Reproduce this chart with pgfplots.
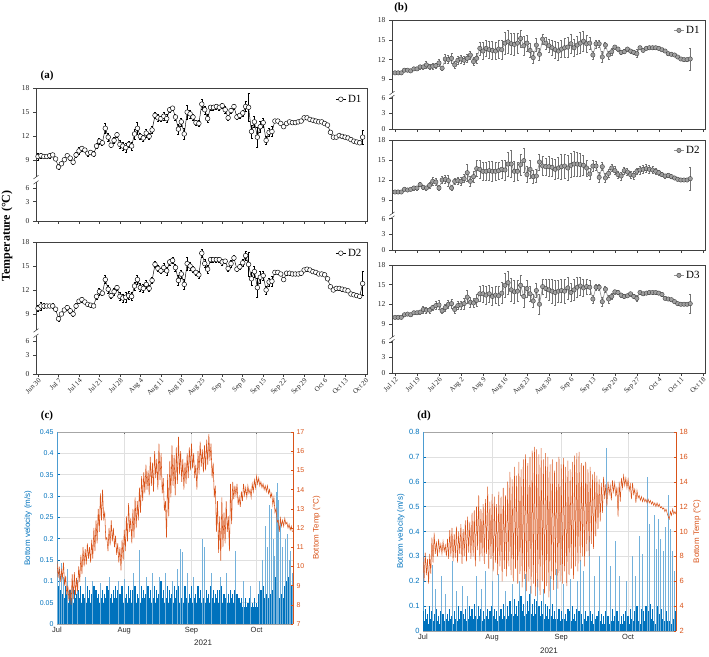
\documentclass[border=0pt]{standalone}
\usepackage{fontspec}
\setmainfont{Liberation Serif}
\newfontfamily\sansfont{Liberation Sans}
\usepackage{pgfplots}
\usepackage{pgfplotstable}
\pgfplotsset{compat=1.18}

\definecolor{mblue}{RGB}{0,114,189}
\definecolor{morange}{RGB}{217,83,25}
\definecolor{mgray}{RGB}{38,38,38}

% ---------- daily temperature, site 1 (day 0 = Jun 30) ----------
\pgfplotstableread{
d t e
0 9.5 .4
1 9.6 .3
2 9.5 .2
3 9.5 .2
4 9.6 .3
5 9.7 .2
6 9.2 .2
7 8.2 .3
8 8.6 .2
9 9.1 .2
10 9.6 .2
11 9.3 .2
12 8.8 .3
13 9.7 .3
14 10.2 .4
15 10.5 .3
16 10.3 .2
17 9.9 .3
18 10.0 .2
19 9.8 .3
20 10.8 .3
21 11.4 .4
22 11.2 .3
23 13.0 .6
24 11.9 .5
25 10.9 .3
26 11.5 .4
27 12.2 .3
28 11.0 .5
29 10.8 .5
30 10.6 .6
31 11.0 .4
32 10.8 .5
33 12.3 .6
34 13.0 .7
35 12.0 .4
36 11.8 .4
37 12.4 .5
38 12.0 .4
39 12.8 .4
40 14.6 .4
41 14.3 .4
42 14.2 .3
43 14.5 .5
44 14.2 .5
45 15.3 .3
46 15.5 .3
47 14.4 .4
48 12.9 .6
49 13.8 .5
50 12.3 .7
51 15.0 .9
52 14.8 .5
53 14.4 .4
54 13.7 .3
55 13.6 .4
56 16.0 .6
57 15.3 .5
58 14.2 .5
59 15.6 .3
60 15.6 .3
61 15.7 .3
62 15.6 .3
63 15.8 .3
64 15.3 .4
65 14.3 .3
66 15.2 .3
67 15.7 .3
68 14.4 .3
69 14.6 .3
70 14.9 .4
71 15.7 .6
72 15.6 1.7
73 12.6 .8
74 13.8 .7
75 11.9 1.2
76 13.2 .7
77 13.7 .6
78 11.5 .5
79 12.5 .5
80 12.6 .6
81 13.9 .15
82 13.9 .15
83 13.6 .15
84 13.2 .15
85 13.6 .15
86 13.8 .15
87 13.7 .15
88 13.7 .15
89 13.8 .15
90 13.9 .15
91 14.3 .15
92 14.3 .15
93 14.1 .15
94 14.0 .15
95 13.9 .15
96 13.8 .15
97 13.8 .15
98 13.6 .15
99 13.4 .15
100 12.5 .15
101 11.9 .15
102 11.9 .15
103 12.1 .15
104 12.0 .15
105 11.9 .15
106 11.8 .15
107 11.6 .15
108 11.4 .15
109 11.3 .15
110 11.2 .15
111 11.9 .9
}\aDone

% ---------- daily temperature, site 2 (day 0 = Jun 30) ----------
\pgfplotstableread{
d t e
0 9.7 .4
1 10.0 .5
2 10.0 .3
3 10.0 .2
4 10.0 .2
5 10.0 .3
6 9.6 .3
7 8.4 .3
8 9.0 .2
9 9.5 .2
10 9.8 .3
11 9.4 .3
12 9.0 .3
13 10.0 .3
14 10.6 .3
15 10.8 .3
16 10.5 .2
17 10.2 .2
18 10.1 .2
19 10.0 .2
20 11.2 .3
21 11.8 .4
22 11.6 .3
23 13.3 .5
24 12.1 .5
25 11.3 .3
26 11.8 .4
27 12.3 .3
28 11.2 .5
29 11.0 .5
30 11.1 .6
31 11.3 .5
32 11.2 .5
33 12.5 .5
34 13.3 .6
35 12.3 .5
36 12.2 .5
37 12.7 .5
38 12.2 .4
39 13.2 .4
40 15.2 .4
41 14.7 .4
42 14.4 .3
43 14.8 .5
44 14.4 .5
45 15.5 .4
46 15.7 .4
47 14.8 .4
48 13.2 .6
49 14.0 .5
50 12.7 .6
51 15.3 .8
52 15.0 .5
53 14.6 .4
54 14.2 .3
55 13.9 .4
56 16.6 .5
57 15.3 .5
58 14.6 .5
59 15.8 .3
60 15.8 .3
61 15.8 .3
62 15.8 .3
63 15.5 .4
64 15.6 .3
65 14.7 .3
66 15.3 .4
67 16.0 .3
68 14.6 .3
69 14.9 .3
70 15.4 .4
71 16.3 .6
72 15.2 1.5
73 13.4 .8
74 14.3 .7
75 12.3 1.2
76 13.6 .7
77 13.8 .6
78 12.0 .5
79 13.0 .5
80 13.1 .6
81 14.2 .2
82 14.2 .2
83 14.0 .2
84 13.3 .2
85 14.1 .2
86 14.1 .2
87 14.0 .2
88 14.0 .2
89 14.0 .2
90 14.1 .2
91 14.5 .2
92 14.6 .2
93 14.5 .2
94 14.3 .2
95 14.2 .2
96 14.0 .2
97 14.0 .2
98 13.9 .2
99 13.4 .2
100 12.4 .2
101 12.0 .2
102 12.2 .2
103 12.2 .2
104 12.1 .2
105 12.0 .2
106 11.9 .2
107 11.5 .2
108 11.4 .2
109 11.3 .2
110 11.2 .2
111 12.8 1.5
}\aDtwo

% ---------- second deployment (day 0 = Jul 12) ----------
\pgfplotstableread{
d t e
0 10.0 .1
1 10.0 .1
2 10.0 .1
3 10.4 .1
4 10.4 .1
5 10.3 .1
6 10.6 .2
7 10.6 .2
8 10.9 .3
9 10.9 .3
10 11.2 .5
11 10.9 .4
12 11.0 .4
13 11.1 .4
14 11.5 .5
15 10.7 .3
16 12.1 .7
17 12.0 .6
18 12.2 .8
19 11.2 .5
20 11.9 .6
21 12.1 .6
22 11.9 .6
23 12.2 .6
24 12.7 .6
25 11.7 .6
26 12.2 .7
27 13.7 1.0
28 13.3 1.3
29 13.7 1.2
30 13.5 1.3
31 13.4 1.4
32 13.3 1.3
33 13.6 1.4
34 13.5 1.5
35 14.5 1.7
36 14.7 1.8
37 14.4 1.6
38 14.3 1.7
39 14.5 1.5
40 15.2 1.3
41 14.1 1.4
42 14.5 1.2
43 13.4 1.1
44 12.3 .9
45 14.2 1.0
46 12.8 .9
47 15.1 .8
48 14.5 .9
49 14.1 1.0
50 13.8 1.2
51 13.5 1.3
52 13.3 1.4
53 13.6 1.3
54 13.8 1.4
55 13.9 1.5
56 14.4 1.5
57 13.8 1.3
58 14.2 1.4
59 14.5 1.6
60 14.8 1.5
61 14.4 1.3
62 14.5 .9
63 12.7 .6
64 14.4 .6
65 14.4 .5
66 12.4 .8
67 14.2 .5
68 12.7 .6
69 13.2 .5
70 13.9 .3
71 13.6 .3
72 13.1 .3
73 13.2 .3
74 13.6 .3
75 13.3 .3
76 13.1 .3
77 12.9 .6
78 13.8 .2
79 13.4 .2
80 13.7 .2
81 13.8 .2
82 13.8 .2
83 13.8 .2
84 13.7 .2
85 13.5 .2
86 13.3 .2
87 12.9 .2
88 12.8 .2
89 12.7 .2
90 12.4 .2
91 12.1 .2
92 12.0 .2
93 12.0 .2
94 12.1 1.7
}\bDone

\pgfplotstableread{
d t e
0 10.2 .2
1 10.2 .2
2 10.2 .2
3 10.6 .2
4 10.5 .2
5 10.6 .2
6 10.8 .3
7 10.8 .3
8 11.3 .3
9 10.9 .3
10 10.8 .3
11 11.2 .4
12 11.8 .6
13 11.7 .5
14 10.8 .4
15 12.0 .5
16 12.1 .6
17 11.9 .8
18 10.8 .4
19 11.8 .5
20 11.9 .5
21 11.8 .6
22 12.2 .6
23 13.1 1.3
24 11.8 .7
25 12.5 .8
26 13.7 1.2
27 13.6 1.3
28 13.3 1.4
29 13.3 1.3
30 13.4 1.4
31 13.3 1.5
32 13.3 1.4
33 13.4 1.3
34 13.6 1.4
35 13.5 1.5
36 14.4 1.8
37 14.4 2.0
38 13.3 1.5
39 13.3 1.4
40 14.3 1.6
41 14.9 1.8
42 12.8 1.2
43 13.6 1.3
44 12.5 1.0
45 12.6 1.0
46 14.7 1.2
47 14.1 1.4
48 14.0 1.3
49 14.0 1.5
50 13.9 1.4
51 13.6 1.5
52 13.8 1.6
53 14.0 1.9
54 14.1 1.8
55 13.8 1.9
56 14.2 1.8
57 14.4 1.9
58 14.4 1.8
59 14.3 1.7
60 14.2 1.5
61 13.8 1.2
62 12.9 .8
63 14.1 .8
64 14.1 .7
65 12.4 .8
66 14.0 .6
67 12.3 .7
68 13.0 .6
69 13.8 .5
70 13.4 .6
71 12.8 .5
72 12.6 .6
73 13.4 .5
74 13.2 .5
75 12.8 .5
76 12.7 .6
77 13.3 .5
78 13.5 .6
79 13.6 .6
80 13.7 .6
81 13.6 .6
82 13.5 .5
83 13.3 .4
84 13.1 .4
85 12.8 .3
86 12.6 .3
87 12.7 .3
88 12.5 .3
89 12.3 .2
90 12.1 .2
91 12.0 .2
92 12.0 .2
93 12.0 .2
94 12.2 1.7
}\bDtwo

\pgfplotstableread{
d t e
0 10.0 .1
1 10.0 .1
2 10.0 .1
3 10.4 .2
4 10.5 .2
5 10.4 .2
6 10.7 .2
7 10.7 .2
8 10.8 .3
9 11.2 .5
10 11.1 .4
11 11.1 .4
12 11.5 .4
13 11.8 .6
14 11.9 .7
15 11.0 .4
16 11.5 .5
17 12.0 .6
18 12.1 .7
19 11.2 .5
20 11.8 .6
21 11.9 .6
22 12.1 .8
23 13.1 1.0
24 12.3 .8
25 12.2 .7
26 12.6 .9
27 13.6 1.1
28 13.6 1.3
29 13.4 1.4
30 13.6 1.3
31 13.2 1.4
32 13.4 1.3
33 13.3 1.5
34 13.7 1.6
35 14.9 1.9
36 15.3 1.7
37 14.2 1.8
38 13.9 1.7
39 14.0 1.6
40 14.9 1.5
41 13.2 1.6
42 14.4 1.3
43 13.6 1.2
44 12.5 1.0
45 14.1 1.1
46 12.0 1.5
47 14.7 1.2
48 14.4 1.4
49 14.2 1.6
50 14.0 1.8
51 13.8 1.9
52 14.0 1.7
53 14.1 1.8
54 14.0 1.9
55 14.5 1.7
56 13.8 1.4
57 14.2 1.6
58 14.6 1.5
59 14.8 1.4
60 14.5 1.3
61 14.7 1.2
62 14.6 1.0
63 12.8 .6
64 14.6 .5
65 14.6 .4
66 12.4 .7
67 14.3 .5
68 12.8 .6
69 13.2 .5
70 13.9 .3
71 13.8 .3
72 13.4 .3
73 13.2 .3
74 13.3 .3
75 13.6 .3
76 13.2 .3
77 12.9 .5
78 13.8 .2
79 13.6 .2
80 13.7 .2
81 13.8 .2
82 13.8 .2
83 13.8 .2
84 13.7 .2
85 13.5 .2
86 12.9 .2
87 12.8 .2
88 12.7 .2
89 12.4 .2
90 12.1 .2
91 12.0 .2
92 12.0 .2
93 12.0 .2
94 12.1 1.5
}\bDthree

\pgfplotsset{
  tbase/.style={
    scale only axis, clip=false,
    axis line style={black!75, line width=0.6pt},
    tick align=outside, xtick pos=left, ytick pos=left,
    major tick length=3pt,
    every tick/.style={black!75, line width=0.5pt},
    ymin=0, ymax=16.5,
    yticklabels={0,3,6,9,12,15,18},
    y tick label style={font=\fontsize{7.5}{8.5}\selectfont, text=black!85},
    x tick label style={font=\fontsize{7}{8}\selectfont, text=black!85,
      rotate=45, anchor=north east, inner sep=0.5pt},
    legend style={draw=none, fill=none, at={(0.99,0.965)}, anchor=north east,
      font=\fontsize{11}{12}\selectfont, inner sep=0pt},
    legend image code/.code={\draw[mark repeat=2, mark phase=2]
      plot coordinates {(0pt,0pt) (5pt,0pt) (10pt,0pt)};},
  },
  ta/.style={tbase, xmin=-0.7, xmax=112.5, xtick={0,7,...,112},
    ytick={0,2.4,4.1,7.5,10.5,13.5,16.5}},
  tb/.style={tbase, xmin=-0.96, xmax=98.7, xtick={0,7,...,98},
    ytick={0,2.4,4.7,7.5,10.5,13.5,16.5}},
  openser/.style={black, line width=0.45pt, mark=*, mark size=2.35pt,
    mark options={fill=white, draw=black, line width=0.45pt},
    error bars/.cd, y dir=both, y explicit,
    error bar style={line width=0.4pt, black},
    error mark options={rotate=90, mark size=1pt, line width=0.4pt, black}},
  grayser/.style={color=gray!85, line width=0.6pt, mark=*, mark size=2.2pt,
    mark options={fill=gray!75, draw=gray!50!black, line width=0.4pt},
    error bars/.cd, y dir=both, y explicit,
    error bar style={line width=0.45pt, gray!90!black},
    error mark options={rotate=90, mark size=1pt, line width=0.45pt, gray!90!black}},
  mleft/.style={
    scale only axis, separate axis lines,
    x axis line style={black!35, line width=0.5pt},
    y axis line style={mblue!70, line width=0.5pt},
    tick align=inside, major tick length=2.5pt,
    xtick style={black!60, line width=0.4pt},
    ytick style={mblue, line width=0.4pt},
    ytick pos=left,
    grid=major, grid style={black!12, line width=0.4pt},
    xmin=0, ymin=0,
    xtick={0,31,62,92}, xticklabels={Jul,Aug,Sep,Oct},
    x tick label style={font=\sansfont\fontsize{7.5}{8}\selectfont, text=mgray},
    y tick label style={font=\sansfont\fontsize{7}{8}\selectfont, text=mblue},
  },
  mright/.style={
    scale only axis, axis x line=none, axis y line*=right,
    y axis line style={-, morange, line width=0.5pt},
    tick align=inside, major tick length=2.5pt,
    ytick style={morange, line width=0.4pt},
    y tick label style={font=\sansfont\fontsize{7}{8}\selectfont, text=morange},
    xmin=0,
  },
}

% broken-axis marker on the left spine
\newcommand{\ybreak}[2]{%
  \fill[white] ([xshift=-2.5pt]rel axis cs:0,#1) rectangle ([xshift=2.5pt]rel axis cs:0,#2);
  \draw[black!75, line width=0.5pt] ([xshift=-2.5pt,yshift=-1.8pt]rel axis cs:0,#1) -- ([xshift=2.5pt,yshift=1.8pt]rel axis cs:0,#1);
  \draw[black!75, line width=0.5pt] ([xshift=-2.5pt,yshift=-1.8pt]rel axis cs:0,#2) -- ([xshift=2.5pt,yshift=1.8pt]rel axis cs:0,#2);
}

\begin{document}
\begin{tikzpicture}
\useasboundingbox (0,0) rectangle (709pt,656pt);

% ================= (a) =================
\begin{axis}[ta, at={(36pt,435pt)}, anchor=south west, width=331pt, height=133pt,
  xticklabels={}]
\addplot[openser] table[x=d, y expr=\thisrow{t}-1.5, y error=e] {\aDone};
\legend{D1}
\ybreak{0.29}{0.33}
\end{axis}

\begin{axis}[ta, at={(36pt,282pt)}, anchor=south west, width=331pt, height=132pt,
  xticklabels={Jun 30,Jul 7,Jul 14,Jul 21,Jul 28,Aug 4,Aug 11,Aug 18,Aug 25,Sep 1,Sep 8,Sep 15,Sep 22,Sep 29,Oct 6,Oct 13,Oct 20}]
\addplot[openser] table[x=d, y expr=\thisrow{t}-1.5, y error=e] {\aDtwo};
\legend{D2}
\ybreak{0.29}{0.33}
\end{axis}

\node[font=\bfseries\fontsize{11}{12}\selectfont] at (47pt,580pt) {(a)};
\node[font=\bfseries\fontsize{12}{13}\selectfont, rotate=90] at (7pt,420pt) {Temperature (°C)};

% ================= (b) =================
\begin{axis}[tb, at={(392pt,527pt)}, anchor=south west, width=313pt, height=109pt,
  xticklabels={}]
\addplot[grayser] table[x=d, y expr=\thisrow{t}-1.5, y error=e] {\bDone};
\legend{D1}
\ybreak{0.295}{0.33}
\end{axis}

\begin{axis}[tb, at={(392pt,406pt)}, anchor=south west, width=313pt, height=110pt,
  xticklabels={}]
\addplot[grayser] table[x=d, y expr=\thisrow{t}-1.5, y error=e] {\bDtwo};
\legend{D2}
\ybreak{0.295}{0.33}
\end{axis}

\begin{axis}[tb, at={(392pt,283pt)}, anchor=south west, width=313pt, height=108pt,
  xticklabels={Jul 12,Jul 19,Jul 26,Aug 2,Aug 9,Aug 16,Aug 23,Aug 30,Sep 6,Sep 13,Sep 20,Sep 27,Oct 4,Oct 11,Oct 18}]
\addplot[grayser] table[x=d, y expr=\thisrow{t}-1.5, y error=e] {\bDthree};
\legend{D3}
\ybreak{0.295}{0.33}
\end{axis}

\node[font=\bfseries\fontsize{11}{12}\selectfont] at (401pt,648pt) {(b)};

% ================= (c) =================
\begin{axis}[mleft, at={(57pt,32pt)}, anchor=south west, width=236pt, height=192pt,
  xmax=108.8, ymax=0.45,
  ytick={0,0.05,0.1,0.15,0.2,0.25,0.3,0.35,0.4,0.45},
  yticklabels={0,0.05,0.1,0.15,0.2,0.25,0.3,0.35,0.4,0.45},
  ylabel={Bottom velocity (m/s)}, xlabel={2021},
  every axis y label/.style={at={(axis description cs:-0.123,0.5)}, rotate=90, anchor=center,
    font=\sansfont\fontsize{8}{9}\selectfont, text=mblue},
  every axis x label/.style={at={(axis description cs:0.619,-0.099)}, anchor=center,
    font=\sansfont\fontsize{8}{9}\selectfont, text=mgray}]
% half-daily velocity envelope
\addplot[ycomb, mblue, line width=1.25pt, no marks] table[row sep=\\, header=false, x expr=\coordindex/2, y index=0] {
.12\\.09\\.13\\.08\\.11\\.07\\.10\\.06\\.09\\.07\\
.07\\.05\\.08\\.06\\.09\\.05\\.08\\.06\\.07\\.05\\.08\\.06\\.09\\.05\\.07\\.06\\.08\\.05\\.09\\.06\\
.08\\.05\\.07\\.06\\.09\\.05\\.08\\.06\\.07\\.05\\.09\\.06\\.08\\.05\\.07\\.06\\.09\\.05\\.08\\.06\\
.07\\.05\\.08\\.06\\.09\\.06\\.08\\.05\\.07\\.06\\.09\\.05\\.08\\.06\\.07\\.05\\.09\\.06\\.08\\.05\\
.08\\.06\\.09\\.05\\.07\\.06\\.08\\.05\\.09\\.06\\.08\\.06\\.07\\.05\\.09\\.06\\.08\\.05\\.07\\.06\\
.09\\.05\\.08\\.06\\.07\\.05\\.10\\.06\\.08\\.05\\.07\\.06\\.09\\.05\\.08\\.06\\.07\\.05\\.09\\.06\\
.08\\.06\\.09\\.05\\.07\\.06\\.08\\.05\\.09\\.06\\.08\\.05\\.07\\.06\\.09\\.05\\.08\\.06\\.07\\.05\\
.09\\.06\\.08\\.05\\.07\\.06\\.09\\.05\\.08\\.06\\.07\\.05\\.09\\.06\\.08\\.05\\.07\\.06\\.08\\.05\\
.08\\.06\\.09\\.05\\.07\\.06\\.08\\.05\\.07\\.05\\.08\\.06\\.07\\.05\\.08\\.05\\.07\\.06\\.06\\.05\\
.06\\.04\\.05\\.04\\.06\\.04\\.05\\.03\\.06\\.04\\.05\\.04\\.06\\.04\\.05\\.04\\.07\\.05\\.08\\.05\\
.09\\.06\\.10\\.07\\.11\\.06\\.09\\.07\\.12\\.08\\.10\\.06\\.11\\.07\\.09\\.06\\.10\\.07\\.11\\.06\\
.09\\.07\\.10\\.06\\.11\\.07\\.09\\.06\\
};
% individual velocity bursts
\addplot[ycomb, mblue!55, line width=0.35pt, no marks] coordinates {
(0.3,0.14) (1.2,0.12) (2,0.143) (3,0.11) (4.5,0.13) (7,0.10) (9.5,0.103) (13,0.11)
(16,0.10) (20,0.095) (24,0.11) (28,0.10) (31,0.105) (35,0.12) (38,0.173) (41,0.11)
(44,0.12) (47,0.11) (50,0.12) (53,0.10) (55.5,0.13) (57,0.175) (57.8,0.168) (60,0.12)
(63,0.11) (67,0.20) (68,0.18) (71,0.12) (75,0.11) (78,0.12) (82,0.17) (86,0.10)
(89,0.09) (93,0.10) (94.5,0.15) (96,0.23) (97,0.18) (97.8,0.28) (98.7,0.27) (99.5,0.20)
(100.2,0.16) (101,0.31) (101.5,0.33) (102,0.29) (103,0.24) (104,0.18) (105,0.20) (106,0.21)
(107,0.15) (107.5,0.17) (108.3,0.12)};
\end{axis}

\begin{axis}[mright, at={(57pt,32pt)}, anchor=south west, width=236pt, height=192pt,
  xmax=108.8, ymin=7, ymax=17,
  ytick={7,8,9,10,11,12,13,14,15,16,17},
  yticklabels={7,8,9,10,11,12,13,14,15,16,17},
  ylabel={Bottom Temp (°C)},
  every axis y label/.style={at={(axis description cs:1.10,0.5)}, rotate=90, anchor=center,
    font=\sansfont\fontsize{8}{9}\selectfont, text=morange}]
% half-daily bottom temperature (high / low)
\addplot[morange, line width=0.55pt, no marks] table[row sep=\\, header=false, x expr=\coordindex/2, y index=0] {
10.3\\9.4\\10.0\\9.2\\9.8\\9.4\\10.2\\9.0\\9.5\\8.5\\9.0\\8.2\\8.8\\8.0\\9.6\\8.3\\9.7\\8.5\\9.4\\8.7\\
10.0\\9.2\\10.6\\9.6\\11.0\\10.0\\10.9\\10.1\\11.2\\10.4\\11.0\\10.2\\11.4\\10.4\\12.0\\10.8\\12.4\\11.2\\13.0\\11.8\\
13.8\\12.4\\14.0\\12.5\\12.8\\11.4\\11.5\\10.8\\12.0\\11.1\\12.4\\11.3\\12.0\\11.0\\11.6\\10.6\\11.2\\10.2\\11.0\\9.8\\
11.4\\10.3\\11.9\\10.8\\12.6\\11.3\\13.3\\11.8\\12.5\\11.2\\13.0\\11.5\\13.6\\12.0\\13.4\\12.4\\14.1\\12.8\\14.7\\13.4\\
14.9\\13.8\\15.3\\14.0\\15.0\\13.7\\15.7\\14.2\\15.4\\13.9\\16.0\\14.6\\15.6\\14.0\\16.4\\14.5\\15.9\\13.8\\14.6\\12.9\\
13.4\\11.5\\14.8\\12.6\\15.5\\13.6\\16.3\\14.2\\15.8\\13.7\\16.2\\14.3\\16.75\\14.8\\16.0\\14.4\\15.6\\14.0\\15.4\\14.3\\
15.9\\14.6\\16.2\\15.0\\16.4\\15.1\\15.9\\14.6\\15.3\\14.0\\16.0\\14.8\\16.5\\15.2\\16.1\\14.9\\16.3\\15.0\\16.6\\15.3\\
16.9\\15.5\\16.4\\14.6\\15.4\\13.6\\14.2\\11.8\\13.4\\10.7\\12.6\\10.3\\13.6\\11.0\\12.8\\11.2\\13.4\\11.8\\12.6\\10.8\\
14.3\\12.2\\14.4\\13.5\\14.2\\13.7\\14.3\\13.2\\13.6\\13.1\\13.9\\13.4\\14.3\\13.7\\14.1\\13.6\\14.2\\13.8\\14.0\\13.6\\
14.3\\13.9\\14.5\\14.1\\14.7\\14.3\\14.6\\14.2\\14.4\\14.1\\14.3\\14.0\\14.2\\13.9\\14.2\\13.8\\14.0\\13.6\\13.8\\13.2\\
13.6\\12.8\\13.0\\12.3\\12.4\\11.8\\12.5\\12.1\\12.4\\12.1\\12.5\\12.2\\12.3\\12.0\\12.2\\11.9\\12.1\\11.8\\
};
\end{axis}

\node[font=\bfseries\fontsize{11}{12}\selectfont] at (47pt,240pt) {(c)};

% ================= (d) =================
\begin{axis}[mleft, at={(423pt,25pt)}, anchor=south west, width=253pt, height=199pt,
  xmax=113.5, ymax=0.8,
  ytick={0,0.1,0.2,0.3,0.4,0.5,0.6,0.7,0.8},
  yticklabels={0,0.1,0.2,0.3,0.4,0.5,0.6,0.7,0.8},
  y tick label style={font=\sansfont\fontsize{7.5}{8}\selectfont, text=mblue},
  ylabel={Bottom velocity (m/s)}, xlabel={2021},
  every axis y label/.style={at={(axis description cs:-0.088,0.5)}, rotate=90, anchor=center,
    font=\sansfont\fontsize{8}{9}\selectfont, text=mblue},
  every axis x label/.style={at={(axis description cs:0.498,-0.10)}, anchor=center,
    font=\sansfont\fontsize{8}{9}\selectfont, text=mgray}]
\addplot[ycomb, mblue, line width=1.25pt, no marks] table[row sep=\\, header=false, x expr=\coordindex/2, y index=0] {
.08\\.04\\.09\\.05\\.07\\.03\\.10\\.05\\.08\\.04\\.07\\.05\\.09\\.04\\.06\\.03\\.08\\.05\\.07\\.04\\
.08\\.05\\.07\\.04\\.09\\.05\\.06\\.03\\.08\\.05\\.07\\.04\\.10\\.05\\.08\\.04\\.07\\.05\\.09\\.04\\
.08\\.05\\.10\\.06\\.09\\.05\\.11\\.06\\.08\\.05\\.10\\.06\\.09\\.04\\.08\\.05\\.11\\.06\\.09\\.05\\
.08\\.05\\.10\\.06\\.09\\.05\\.08\\.04\\.10\\.06\\.09\\.05\\.11\\.06\\.08\\.05\\.10\\.06\\.12\\.07\\
.11\\.06\\.13\\.07\\.10\\.06\\.12\\.07\\.14\\.08\\.11\\.06\\.13\\.07\\.12\\.08\\.15\\.07\\.11\\.06\\
.13\\.07\\.12\\.06\\.10\\.06\\.12\\.07\\.09\\.05\\.11\\.06\\.10\\.05\\.09\\.06\\.11\\.05\\.08\\.05\\
.10\\.05\\.09\\.04\\.08\\.05\\.10\\.05\\.07\\.04\\.09\\.05\\.08\\.04\\.10\\.05\\.07\\.04\\.09\\.05\\
.08\\.04\\.07\\.03\\.09\\.05\\.08\\.04\\.06\\.03\\.08\\.04\\.07\\.03\\.09\\.05\\.06\\.03\\.08\\.04\\
.07\\.03\\.06\\.03\\.08\\.04\\.06\\.03\\.07\\.04\\.09\\.04\\.06\\.03\\.08\\.04\\.07\\.03\\.06\\.03\\
.07\\.04\\.08\\.04\\.06\\.03\\.09\\.05\\.07\\.04\\.08\\.05\\.10\\.04\\.07\\.03\\.09\\.05\\.08\\.04\\
.10\\.05\\.08\\.04\\.11\\.05\\.09\\.04\\.08\\.03\\.10\\.05\\.07\\.04\\.09\\.05\\.11\\.04\\.08\\.04\\
.09\\.04\\.07\\.03\\.10\\.05\\.08\\.04\\
};
\addplot[ycomb, mblue!55, line width=0.35pt, no marks] coordinates {
(3.9,0.265) (5.5,0.17) (8.2,0.22) (10,0.15) (13.3,0.28) (15,0.16) (17.5,0.18) (20,0.14)
(23.8,0.22) (26,0.17) (27.8,0.24) (31,0.20) (33.9,0.23) (37,0.16) (40,0.19) (43,0.20)
(46,0.23) (48,0.18) (51,0.21) (54,0.17) (57,0.22) (59.6,0.25) (63,0.19) (66,0.21)
(69,0.20) (70.4,0.285) (72,0.24) (74.5,0.38) (77,0.22) (79,0.30) (82,0.734) (84,0.26)
(86,0.36) (88,0.22) (91.3,0.20) (94,0.30) (95,0.22) (97,0.38) (98.5,0.31) (100.4,0.62)
(101.5,0.43) (103.6,0.466) (104.5,0.33) (105.5,0.45) (106.5,0.37) (107.7,0.32) (108.5,0.42)
(110,0.547) (111,0.41) (112,0.32) (112.7,0.24)};
\end{axis}

\begin{axis}[mright, at={(423pt,25pt)}, anchor=south west, width=253pt, height=199pt,
  xmax=113.5, ymin=2, ymax=18,
  ytick={2,4,6,8,10,12,14,16,18},
  yticklabels={2,4,6,8,10,12,14,16,18},
  y tick label style={font=\sansfont\fontsize{7.5}{8}\selectfont, text=morange},
  ylabel={Bottom Temp (°C)},
  every axis y label/.style={at={(axis description cs:1.083,0.5)}, rotate=90, anchor=center,
    font=\sansfont\fontsize{8}{9}\selectfont, text=morange}]
\addplot[morange, line width=0.5pt, no marks] table[row sep=\\, header=false, x expr=\coordindex/2, y index=0] {
8.0\\6.0\\8.3\\6.5\\7.8\\5.8\\8.2\\6.6\\9.5\\7.5\\9.9\\8.2\\9.2\\8.0\\9.4\\8.4\\9.0\\8.2\\9.2\\8.4\\
8.9\\8.0\\9.4\\7.8\\10.1\\8.0\\10.3\\7.6\\9.8\\7.9\\10.4\\7.5\\10.0\\8.2\\10.6\\7.4\\10.2\\8.0\\10.9\\7.6\\
11.2\\8.3\\10.8\\7.8\\11.5\\8.0\\11.7\\7.2\\12.0\\8.5\\12.9\\7.6\\11.8\\8.0\\12.2\\7.4\\12.6\\8.2\\13.6\\7.0\\
12.4\\7.8\\13.0\\6.8\\12.8\\7.5\\12.2\\6.5\\13.2\\7.2\\12.8\\6.0\\13.5\\7.0\\12.9\\6.4\\14.0\\7.2\\14.8\\6.5\\
14.2\\6.0\\15.2\\7.0\\14.5\\5.8\\15.6\\6.6\\15.0\\5.5\\15.8\\6.2\\16.2\\5.2\\15.5\\6.0\\16.0\\5.0\\16.5\\5.8\\
16.8\\4.8\\16.6\\5.5\\16.2\\4.9\\16.7\\6.0\\15.8\\5.0\\16.3\\5.6\\16.0\\4.7\\15.4\\6.2\\15.8\\5.3\\14.9\\6.5\\
15.6\\5.4\\16.0\\6.0\\15.4\\5.8\\15.9\\6.8\\15.2\\5.6\\15.7\\6.5\\15.0\\7.0\\15.6\\6.2\\16.1\\7.2\\16.3\\6.8\\
16.4\\7.6\\15.5\\8.0\\15.3\\7.2\\15.6\\8.4\\15.0\\8.0\\15.2\\9.0\\14.6\\8.6\\14.8\\9.6\\14.5\\10.2\\14.2\\10.8\\
13.9\\11.5\\14.4\\12.6\\13.8\\12.0\\14.0\\13.0\\13.7\\12.5\\14.1\\13.2\\13.9\\12.8\\13.6\\11.2\\14.0\\12.4\\14.3\\13.5\\
14.5\\13.7\\14.3\\13.5\\14.2\\13.3\\13.8\\12.6\\13.9\\13.0\\13.4\\12.3\\13.3\\12.7\\12.9\\12.5\\12.8\\12.4\\12.7\\12.4\\
12.6\\12.3\\12.6\\12.3\\12.5\\12.2\\12.4\\12.1\\12.3\\12.0\\12.3\\12.0\\12.2\\11.9\\12.0\\11.8\\11.9\\11.6\\11.8\\11.5\\
11.2\\11.0\\11.6\\11.3\\11.8\\11.4\\11.6\\11.4\\
};
\end{axis}

\node[font=\bfseries\fontsize{11}{12}\selectfont] at (424pt,240pt) {(d)};

\end{tikzpicture}
\end{document}
